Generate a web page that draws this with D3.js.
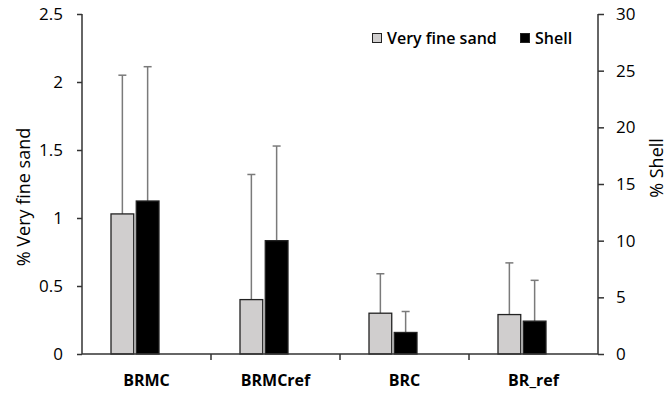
<!DOCTYPE html>
<html>
<head>
<meta charset="utf-8">
<script src="https://cdn.jsdelivr.net/npm/d3@7"></script>
<style>
  body { margin: 0; background: #fff; }
  svg { display: block; font-family: "Open Sans", sans-serif; }
</style>
</head>
<body>
<div class="chart"></div>
<script>
// data
var sites = ["BRMC", "BRMCref", "BRC", "BR_ref"]
var sandMean = [1.03, 0.40, 0.30, 0.29]
var sandErr = [1.02, 0.92, 0.29, 0.38]   // upper error only
var shellMean = [13.5, 10.0, 1.9, 2.9]
var shellErr = [11.85, 8.35, 1.85, 3.6]
var sandTicks = [0, 0.5, 1, 1.5, 2, 2.5]
var shellTicks = [0, 5, 10, 15, 20, 25, 30]

var width = 665, height = 394
var pLeft = 82, pRight = 598, pTop = 14, pBottom = 354
var font = "'Open Sans', sans-serif"

var svg = d3.select(".chart").append("svg")
  .attr("width", width)
  .attr("height", height)

var x = d3.scaleBand()
  .domain(sites)
  .range([pLeft, pRight])

// the two bars sit left of the band centre, like the original
var x1 = d3.scaleBand()
  .domain(["sand", "shell"])
  .range([29, 77])
  .paddingInner(0.1)

var yL = d3.scaleLinear().domain([0, 2.5]).range([pBottom, pTop])
var yR = d3.scaleLinear().domain([0, 30]).range([pBottom, pTop])

var rows = sites.map((s, i) => ({
  site: s,
  sand: sandMean[i], sandE: sandErr[i],
  shell: shellMean[i], shellE: shellErr[i]
}))

// error bars (drawn first so bars cover the lower part)
function errBars(key, errKey, scale, cls) {
  var g = svg.append("g").attr("class", cls)
  var cx = d => x(d.site) + x1(key) + x1.bandwidth() / 2
  g.selectAll("line.v").data(rows).enter().append("line")
    .attr("x1", cx).attr("x2", cx)
    .attr("y1", d => scale(d[key]))
    .attr("y2", d => scale(d[key] + d[errKey]))
    .attr("stroke", "#7a7a7a").attr("stroke-width", 1.5)
  g.selectAll("line.c").data(rows).enter().append("line")
    .attr("x1", d => cx(d) - 4).attr("x2", d => cx(d) + 4)
    .attr("y1", d => scale(d[key] + d[errKey]))
    .attr("y2", d => scale(d[key] + d[errKey]))
    .attr("stroke", "#7a7a7a").attr("stroke-width", 1.5)
}
errBars("sand", "sandE", yL, "err-sand")
errBars("shell", "shellE", yR, "err-shell")

svg.append("g").selectAll("rect").data(rows).enter().append("rect")
  .attr("x", d => x(d.site) + x1("sand"))
  .attr("y", d => yL(d.sand))
  .attr("width", x1.bandwidth())
  .attr("height", d => pBottom - yL(d.sand))
  .attr("fill", "#d0cece")
  .attr("stroke", "#222").attr("stroke-width", 1.3)

svg.append("g").selectAll("rect").data(rows).enter().append("rect")
  .attr("x", d => x(d.site) + x1("shell"))
  .attr("y", d => yR(d.shell))
  .attr("width", x1.bandwidth())
  .attr("height", d => pBottom - yR(d.shell))
  .attr("fill", "#000")
  .attr("stroke", "#222").attr("stroke-width", 1.3)

// axes
var axL = svg.append("g")
  .attr("transform", "translate(" + pLeft + ",0)")
  .call(d3.axisLeft(yL).tickValues(sandTicks).tickSize(5).tickPadding(14)
    .tickFormat(d => String(d)))
var axR = svg.append("g")
  .attr("transform", "translate(" + pRight + ",0)")
  .call(d3.axisRight(yR).tickValues(shellTicks).tickSize(6).tickPadding(12))
var axB = svg.append("g")
  .attr("transform", "translate(0," + pBottom + ")")
  .call(d3.axisBottom(x).tickSize(0).tickPadding(21))

// category separator ticks
svg.append("g").selectAll("line").data(sites.slice(1)).enter().append("line")
  .attr("x1", d => x(d)).attr("x2", d => x(d))
  .attr("y1", pBottom).attr("y2", pBottom + 6)
  .attr("stroke", "#333").attr("stroke-width", 1.5)

;[axL, axR, axB].forEach(a => {
  a.selectAll(".domain").attr("stroke", "#333").attr("stroke-width", 1.5)
  a.selectAll(".tick line").attr("stroke", "#333").attr("stroke-width", 1.5)
  a.selectAll("text").attr("fill", "#000").attr("font-family", font)
})
axL.select(".domain").attr("d", "M0," + pTop + "V" + pBottom)
axR.select(".domain").attr("d", "M0," + pTop + "V" + pBottom)
axB.select(".domain").attr("d", "M" + pLeft + ",0H" + pRight)
axL.selectAll("text").attr("font-size", 17)
axR.selectAll("text").attr("font-size", 17)
axB.selectAll("text").attr("font-size", 16).attr("font-weight", 700)

// axis titles
svg.append("text")
  .attr("transform", "translate(30,197) rotate(-90)")
  .attr("text-anchor", "middle")
  .attr("font-size", 18)
  .attr("fill", "#000")
  .text("% Very fine sand")
svg.append("text")
  .attr("transform", "translate(663,168) rotate(-90)")
  .attr("text-anchor", "middle")
  .attr("font-size", 18)
  .attr("fill", "#000")
  .text("% Shell")

// legend
var legend = [
  {name: "Very fine sand", fill: "#d0cece", x: 372},
  {name: "Shell", fill: "#000", x: 520}
]
var lg = svg.append("g").selectAll("g").data(legend).enter().append("g")
  .attr("transform", d => "translate(" + d.x + ",33)")
lg.append("rect")
  .attr("x", 0.5).attr("y", 0.5).attr("width", 9).attr("height", 9)
  .attr("fill", d => d.fill).attr("stroke", "#222").attr("stroke-width", 1)
lg.append("text")
  .attr("x", 15).attr("y", 11)
  .attr("font-size", 16).attr("font-weight", 600)
  .attr("fill", "#000")
  .text(d => d.name)
</script>
</body>
</html>
